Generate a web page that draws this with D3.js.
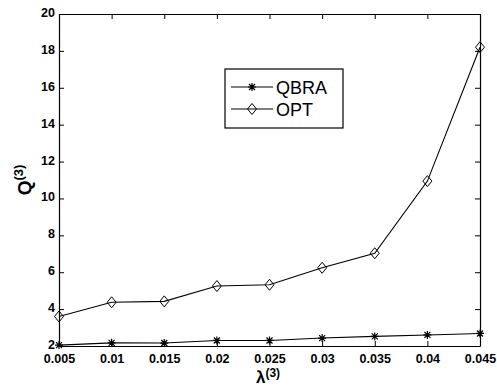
<!DOCTYPE html>
<html>
<head>
<meta charset="utf-8">
<script src="https://cdn.jsdelivr.net/npm/d3@7"></script>
<style>
  body { margin: 0; background: #fff; }
  svg { font-family: "Liberation Sans", Arial, sans-serif; }
  .tick text { font-size: 12.5px; font-weight: bold; fill: #000; }
  .axis path, .axis line { stroke: #000; }
</style>
</head>
<body>
<div id="chart"></div>
<script>
var lambdas = [0.005, 0.01, 0.015, 0.02, 0.025, 0.03, 0.035, 0.04, 0.045];
var qbra = [2.05, 2.17, 2.16, 2.3, 2.3, 2.43, 2.52, 2.6, 2.68];
var opt = [3.6, 4.37, 4.42, 5.25, 5.32, 6.24, 7.03, 10.94, 18.2];
var yTicks = [2, 4, 6, 8, 10, 12, 14, 16, 18, 20];
var xTickLabels = ["0.005", "0.01", "0.015", "0.02", "0.025", "0.03", "0.035", "0.04", "0.045"];

var margin = { left: 59, right: 17, top: 14, bottom: 41 };
var width = 497 - margin.left - margin.right,
    height = 387 - margin.top - margin.bottom;

var svg = d3.select("#chart").append("svg")
    .attr("width", 497)
    .attr("height", 387);
var g = svg.append("g")
    .attr("transform", "translate(" + margin.left + "," + margin.top + ")");

var x = d3.scaleLinear().domain([0.005, 0.045]).range([0, width]);
var y = d3.scaleLinear().domain([2, 20]).range([height, 0]);

// axes, ticks pointing inward like matlab
g.append("g")
    .attr("class", "axis")
    .attr("transform", "translate(0," + height + ")")
    .call(d3.axisBottom(x).tickValues(lambdas).tickSizeInner(-5).tickSizeOuter(0).tickPadding(8)
        .tickFormat(function(d, i) { return xTickLabels[i]; }));
g.append("g")
    .attr("class", "axis y-left")
    .call(d3.axisLeft(y).tickValues(yTicks).tickSizeInner(-5).tickSizeOuter(0).tickPadding(4));
g.append("g")
    .attr("class", "axis")
    .call(d3.axisTop(x).tickValues(lambdas).tickSizeInner(-5).tickSizeOuter(0).tickFormat(""));
g.append("g")
    .attr("class", "axis")
    .attr("transform", "translate(" + width + ",0)")
    .call(d3.axisRight(y).tickValues(yTicks).tickSizeInner(-5).tickSizeOuter(0).tickFormat(""));
g.selectAll(".axis path").attr("stroke-width", 1.2);
g.selectAll(".y-left .tick text").attr("dy", "0.2em");

var line = d3.line()
    .x(function(d, i) { return x(lambdas[i]); })
    .y(function(d) { return y(d); });

g.append("path").datum(qbra)
    .attr("d", line).attr("fill", "none").attr("stroke", "#000").attr("stroke-width", 1.1);
g.append("path").datum(opt)
    .attr("d", line).attr("fill", "none").attr("stroke", "#000").attr("stroke-width", 1.1);

function star(sel) {
  sel.append("path")
    .attr("d", "M-4,0H4M0,-4V4M-3,-3L3,3M-3,3L3,-3")
    .attr("stroke", "#000").attr("stroke-width", 1.2).attr("fill", "none");
}
function diamond(sel) {
  sel.append("path")
    .attr("d", "M0,-5.5L4.5,0L0,5.5L-4.5,0Z")
    .attr("stroke", "#000").attr("stroke-width", 1).attr("fill", "none");
}

g.selectAll(".qm").data(qbra).enter().append("g")
    .attr("transform", function(d, i) { return "translate(" + x(lambdas[i]) + "," + y(d) + ")"; })
    .call(star);
g.selectAll(".om").data(opt).enter().append("g")
    .attr("transform", function(d, i) { return "translate(" + x(lambdas[i]) + "," + y(d) + ")"; })
    .call(diamond);

// legend
var leg = svg.append("g").attr("transform", "translate(225,69)");
leg.append("rect").attr("width", 118).attr("height", 59)
    .attr("fill", "#fff").attr("stroke", "#000").attr("stroke-width", 1.2);
var items = [{ name: "QBRA", mark: star, yy: 18 }, { name: "OPT", mark: diamond, yy: 40 }];
items.forEach(function(it) {
  leg.append("line").attr("x1", 6).attr("x2", 48).attr("y1", it.yy).attr("y2", it.yy)
      .attr("stroke", "#000").attr("stroke-width", 1.1);
  leg.append("g").attr("transform", "translate(27," + it.yy + ")").call(it.mark);
  leg.append("text").attr("x", 51).attr("y", it.yy + 6.5)
      .attr("font-size", "18px").text(it.name);
});

// axis labels
var yl = svg.append("text")
    .attr("transform", "translate(31," + (margin.top + height / 2) + ") rotate(-90)")
    .attr("text-anchor", "middle")
    .attr("font-size", "19px").attr("font-weight", "bold");
yl.append("tspan").text("Q");
yl.append("tspan").attr("dy", -8).attr("font-size", "13px").text("(3)");

var xl = svg.append("text")
    .attr("x", 268).attr("y", 383)
    .attr("text-anchor", "middle")
    .attr("font-size", "17px").attr("font-weight", "bold");
xl.append("tspan").text("\u03bb");
xl.append("tspan").attr("dy", -6).attr("font-size", "12px").text("(3)");
</script>
</body>
</html>
